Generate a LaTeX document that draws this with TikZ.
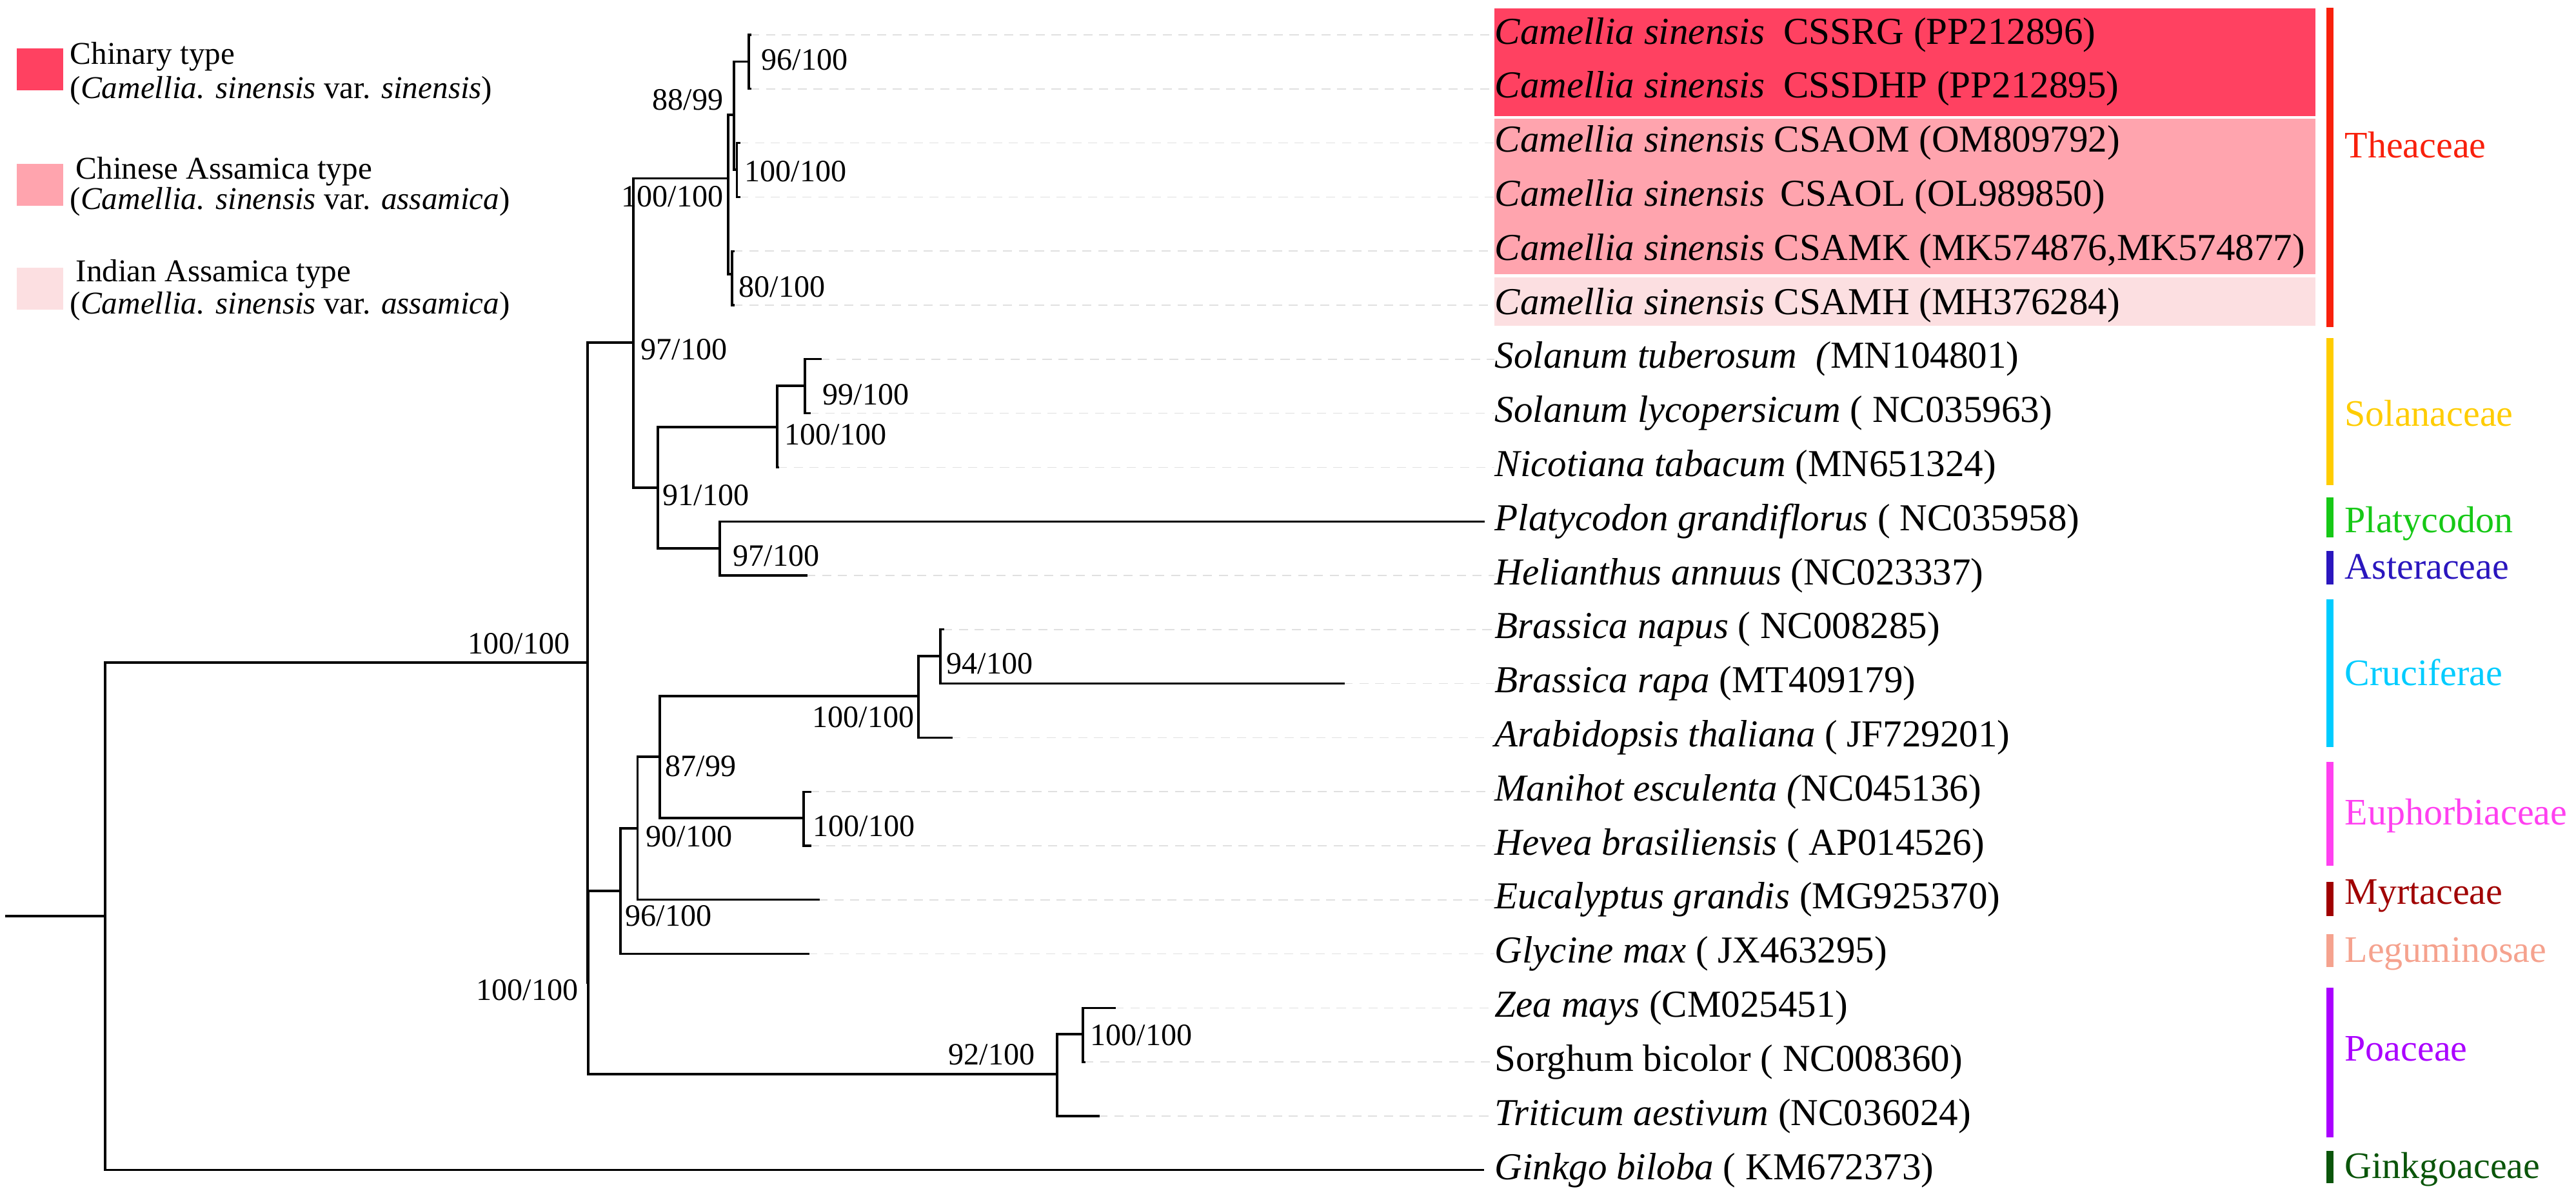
\documentclass[tikz,border=0pt]{standalone}
\usepackage{fontspec}
\setmainfont{Liberation Serif}
\usepackage{tikz}
\usetikzlibrary{positioning}
\definecolor{chinary}{RGB}{255,65,97}
\definecolor{chassam}{RGB}{255,164,174}
\definecolor{inassam}{RGB}{252,223,225}
\definecolor{theac}{RGB}{248,32,12}
\definecolor{solan}{RGB}{255,204,0}
\definecolor{platy}{RGB}{22,200,22}
\definecolor{aster}{RGB}{42,22,190}
\definecolor{crucif}{RGB}{0,204,255}
\definecolor{euphor}{RGB}{255,64,240}
\definecolor{myrta}{RGB}{160,0,0}
\definecolor{legum}{RGB}{245,162,142}
\definecolor{poac}{RGB}{170,0,255}
\definecolor{ginkgo}{RGB}{10,85,10}
\tikzstyle{sp}=[inner sep=0pt, anchor=west, font=\fontsize{16.8}{20}\selectfont]
\tikzstyle{bs}=[inner sep=0pt, font=\fontsize{13.7}{16}\selectfont]
\tikzstyle{fam}=[inner sep=0pt, anchor=west, font=\fontsize{16.5}{20}\selectfont]
\tikzstyle{legtext}=[inner sep=0pt, anchor=west, font=\fontsize{14}{17}\selectfont]
\tikzstyle{swatch}=[rectangle, inner sep=0pt, anchor=north west, minimum width=7.15mm, minimum height=6.5mm]
\tikzstyle{guide}=[black!12, dash pattern=on 4pt off 3pt, line width=0.5pt]

\begin{document}
\begin{tikzpicture}
      \useasboundingbox (0,0) rectangle (39.94,-18.57);
      % legend
      \node [swatch, fill=chinary] (sw1) at (0.255,-0.74) {};
      \node [swatch, fill=chassam] (sw2) at (0.255,-2.53) {};
      \node [swatch, fill=inassam] (sw3) at (0.255,-4.14) {};
      \node [legtext] (k1a) at (1.08,-0.875) {Chinary type};
      \node [legtext] (k1b) at (1.08,-1.41) {(\textit{Camellia. sinensis} var. \textit{sinensis})};
      \node [legtext] (k2a) at (1.17,-2.66) {Chinese Assamica type};
      \node [legtext] (k2b) at (1.08,-3.125) {(\textit{Camellia. sinensis} var. \textit{assamica})};
      \node [legtext] (k3a) at (1.17,-4.25) {Indian Assamica type};
      \node [legtext] (k3b) at (1.08,-4.75) {(\textit{Camellia. sinensis} var. \textit{assamica})};
      % shaded tea rows
      \fill [chinary] (23.17,-0.13) rectangle (35.90,-1.80);
      \fill [chassam] (23.17,-1.84) rectangle (35.90,-4.25);
      \fill [inassam] (23.17,-4.30) rectangle (35.90,-5.05);
      % inner nodes
      \coordinate (rootstart) at (0.10,-14.20);
      \coordinate (R) at (1.63,-14.20);
      \coordinate (M) at (9.11,-10.27);
      \coordinate (X) at (9.12,-15.23);
      \coordinate (N97) at (9.82,-5.31);
      \coordinate (T) at (11.29,-2.767);
      \coordinate (B) at (11.38,-1.78);
      \coordinate (A) at (11.61,-0.957);
      \coordinate (C) at (11.427,-2.63);
      \coordinate (D) at (11.35,-4.25);
      \coordinate (S91) at (10.20,-7.56);
      \coordinate (Sol) at (12.05,-6.62);
      \coordinate (S99) at (12.48,-5.98);
      \coordinate (PH) at (11.16,-8.50);
      \coordinate (E) at (9.62,-13.81);
      \coordinate (F) at (9.885,-12.84);
      \coordinate (G) at (10.23,-11.73);
      \coordinate (K) at (14.24,-10.79);
      \coordinate (L) at (14.58,-10.17);
      \coordinate (H) at (12.46,-12.68);
      \coordinate (P) at (16.39,-16.65);
      \coordinate (Q) at (16.79,-16.03);
      % leaf tips
      \coordinate (t0) at (11.63,-0.540);
      \coordinate (t1) at (11.63,-1.378);
      \coordinate (t2) at (11.46,-2.216);
      \coordinate (t3) at (11.46,-3.054);
      \coordinate (t4) at (11.37,-3.892);
      \coordinate (t5) at (11.37,-4.730);
      \coordinate (t6) at (12.72,-5.568);
      \coordinate (t7) at (12.55,-6.406);
      \coordinate (t8) at (12.06,-7.244);
      \coordinate (t9) at (23.00,-8.082);
      \coordinate (t10) at (12.50,-8.920);
      \coordinate (t11) at (14.62,-9.758);
      \coordinate (t12) at (20.83,-10.596);
      \coordinate (t13) at (14.75,-11.434);
      \coordinate (t14) at (12.56,-12.272);
      \coordinate (t15) at (12.56,-13.110);
      \coordinate (t16) at (12.69,-13.948);
      \coordinate (t17) at (12.53,-14.786);
      \coordinate (t18) at (17.28,-15.624);
      \coordinate (t19) at (16.81,-16.462);
      \coordinate (t20) at (17.03,-17.300);
      \coordinate (t21) at (22.99,-18.138);
      % species
      \node [sp] (l0) at (23.17,-0.540) {\textit{Camellia sinensis}\ \ CSSRG (PP212896)};
      \node [sp] (l1) at (23.17,-1.378) {\textit{Camellia sinensis}\ \ CSSDHP (PP212895)};
      \node [sp] (l2) at (23.17,-2.216) {\textit{Camellia sinensis} CSAOM (OM809792)};
      \node [sp] (l3) at (23.17,-3.054) {\textit{Camellia sinensis}\,\ CSAOL (OL989850)};
      \node [sp] (l4) at (23.17,-3.892) {\textit{Camellia sinensis} CSAMK (MK574876,MK574877)};
      \node [sp] (l5) at (23.17,-4.730) {\textit{Camellia sinensis} CSAMH (MH376284)};
      \node [sp] (l6) at (23.17,-5.568) {\textit{Solanum tuberosum\ \ (}MN104801)};
      \node [sp] (l7) at (23.17,-6.406) {\textit{Solanum lycopersicum} ( NC035963)};
      \node [sp] (l8) at (23.17,-7.244) {\textit{Nicotiana tabacum} (MN651324)};
      \node [sp] (l9) at (23.17,-8.082) {\textit{Platycodon grandiflorus} ( NC035958)};
      \node [sp] (l10) at (23.17,-8.920) {\textit{Helianthus annuus} (NC023337)};
      \node [sp] (l11) at (23.17,-9.758) {\textit{Brassica napus} ( NC008285)};
      \node [sp] (l12) at (23.17,-10.596) {\textit{Brassica rapa} (MT409179)};
      \node [sp] (l13) at (23.17,-11.434) {\textit{Arabidopsis thaliana} ( JF729201)};
      \node [sp] (l14) at (23.17,-12.272) {\textit{Manihot esculenta (}NC045136)};
      \node [sp] (l15) at (23.17,-13.110) {\textit{Hevea brasiliensis} ( AP014526)};
      \node [sp] (l16) at (23.17,-13.948) {\textit{Eucalyptus grandis} (MG925370)};
      \node [sp] (l17) at (23.17,-14.786) {\textit{Glycine max} ( JX463295)};
      \node [sp] (l18) at (23.17,-15.624) {\textit{Zea mays} (CM025451)};
      \node [sp] (l19) at (23.17,-16.462) {Sorghum bicolor ( NC008360)};
      \node [sp] (l20) at (23.17,-17.300) {\textit{Triticum aestivum} (NC036024)};
      \node [sp] (l21) at (23.17,-18.138) {\textit{Ginkgo biloba} ( KM672373)};
      % guides
      \foreach \i in {0,...,8,10,11,...,20}
        \draw [guide] (t\i) -- (l\i.west);
      % branches
      \path [draw, line width=0.9pt, line cap=rect]
      (rootstart) -- (R)
      (R) |- (M)   (R) |- (t21)
      (M) |- (N97)   (M) |- (X)
      (N97) |- (T)   (N97) |- (S91)
      (T) |- (B)   (T) |- (D)
      (B) |- (A)   (B) |- (C)
      (A) |- (t0)   (A) |- (t1)
      (C) |- (t2)   (C) |- (t3)
      (D) |- (t4)   (D) |- (t5)
      (S91) |- (Sol)   (S91) |- (PH)
      (Sol) |- (S99)   (Sol) |- (t8)
      (S99) |- (t6)   (S99) |- (t7)
      (PH) |- (t9)   (PH) |- (t10)
      (X) |- (E)   (X) |- (P)
      (E) |- (F)   (E) |- (t17)
      (F) |- (G)   (F) |- (t16)
      (G) |- (K)   (G) |- (H)
      (K) |- (L)   (K) |- (t13)
      (L) |- (t11)   (L) |- (t12)
      (H) |- (t14)   (H) |- (t15)
      (P) |- (Q)   (P) |- (t20)
      (Q) |- (t18)   (Q) |- (t19);
      % support values
      \node [bs, anchor=west] (sA) at (11.80,-0.93) {96/100};
      \node [bs, anchor=east] (sB) at (11.22,-1.55) {88/99};
      \node [bs, anchor=west] (sC) at (11.54,-2.66) {100/100};
      \node [bs, anchor=east] (sT) at (11.22,-3.05) {100/100};
      \node [bs, anchor=west] (sD) at (11.45,-4.45) {80/100};
      \node [bs, anchor=west] (sN97) at (9.93,-5.42) {97/100};
      \node [bs, anchor=west] (sS99) at (12.75,-6.12) {99/100};
      \node [bs, anchor=west] (sSol) at (12.16,-6.74) {100/100};
      \node [bs, anchor=west] (sS91) at (10.27,-7.68) {91/100};
      \node [bs, anchor=west] (sPH) at (11.36,-8.62) {97/100};
      \node [bs, anchor=east] (sM) at (8.84,-9.98) {100/100};
      \node [bs, anchor=west] (sL) at (14.67,-10.29) {94/100};
      \node [bs, anchor=east] (sK) at (14.18,-11.12) {100/100};
      \node [bs, anchor=west] (sG) at (10.31,-11.88) {87/99};
      \node [bs, anchor=west] (sH) at (12.60,-12.81) {100/100};
      \node [bs, anchor=west] (sF) at (10.01,-12.97) {90/100};
      \node [bs, anchor=west] (sE) at (9.69,-14.20) {96/100};
      \node [bs, anchor=east] (sX) at (8.97,-15.35) {100/100};
      \node [bs, anchor=west] (sQ) at (16.90,-16.05) {100/100};
      \node [bs, anchor=east] (sP) at (16.05,-16.35) {92/100};
      % families
      \fill [theac] (36.07,-0.125) rectangle (36.18,-5.07);
      \fill [solan] (36.07,-5.245) rectangle (36.18,-7.52);
      \fill [platy] (36.07,-7.71) rectangle (36.18,-8.326);
      \fill [aster] (36.07,-8.54) rectangle (36.18,-9.06);
      \fill [crucif] (36.07,-9.286) rectangle (36.18,-11.585);
      \fill [euphor] (36.07,-11.81) rectangle (36.18,-13.425);
      \fill [myrta] (36.07,-13.67) rectangle (36.18,-14.20);
      \fill [legum] (36.07,-14.476) rectangle (36.18,-14.985);
      \fill [poac] (36.07,-15.31) rectangle (36.18,-17.63);
      \fill [ginkgo] (36.07,-17.835) rectangle (36.18,-18.34);
      \node [fam, text=theac] (f1) at (36.35,-2.25) {Theaceae};
      \node [fam, text=solan] (f2) at (36.35,-6.41) {Solanaceae};
      \node [fam, text=platy] (f3) at (36.35,-8.12) {Platycodon};
      \node [fam, text=aster] (f4) at (36.35,-8.79) {Asteraceae};
      \node [fam, text=crucif] (f5) at (36.35,-10.42) {Cruciferae};
      \node [fam, text=euphor] (f6) at (36.35,-12.65) {Euphorbiaceae};
      \node [fam, text=myrta] (f7) at (36.35,-13.89) {Myrtaceae};
      \node [fam, text=legum] (f8) at (36.35,-14.79) {Leguminosae};
      \node [fam, text=poac] (f9) at (36.35,-16.26) {Poaceae};
      \node [fam, text=ginkgo] (f10) at (36.35,-18.13) {Ginkgoaceae};
\end{tikzpicture}
\end{document}
